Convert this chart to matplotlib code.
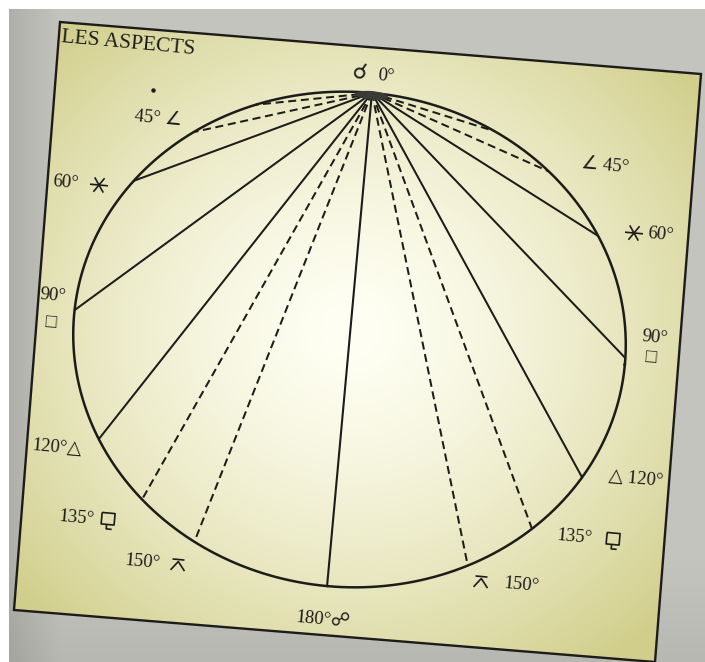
import numpy as np
import matplotlib
matplotlib.use("Agg")
import matplotlib.pyplot as plt
from matplotlib.transforms import Affine2D
from matplotlib.patches import Polygon, Ellipse

# ---------------- data ----------------
title = "LES ASPECTS"
# aspect angles (degrees from the conjunction point) and where the chords were drawn
aspect_angles = [30, 45, 60, 90, 120, 135, 150]
drawn_left = [24.5, 39, 56, 89, 119.5, 136, 150.5]
drawn_right = [27, 41.5, 59.5, 88.5, 118, 134, 150]
is_dashed = [True, True, False, False, False, True, True]
opposition_angle = 180

# plain text labels
label_texts = ["☌", "0°", "45° ∠", "90°", "□", "120°△", "180°☍",
               "∠ 45°", "90°", "□", "△ 120°"]
# number labels whose aspect glyph (sextile, sesquiquadrate, quincunx) has no installed font
num_texts = ["60°", "135°", "150°", "60°", "135°", "150°"]
glyph_kinds = ["sextile", "sesquiquadrate", "quincunx", "sextile", "sesquiquadrate", "quincunx"]

# ---------------- layout ----------------
W, H = 705, 662
cx, cy = 349.5, 339.5          # centre of the (slightly oval) circle, pixels
a_ax, b_ax = 276.5, 247.6       # semi axes
tilt = 5.2                      # page tilt, degrees (clockwise)
c, s = np.cos(np.radians(tilt)), np.sin(np.radians(tilt))

label_pos = [(360, 74), (386, 76), (158, 119), (53, 296), (51, 323), (57, 448), (323, 620),
             (605, 166), (655, 338), (651, 358), (636, 479)]
label_sizes = [16, 13.5, 13.5, 13.5, 13.5, 13.5, 13.5, 13.5, 13.5, 13.5, 13.5]
num_pos = [(66, 183), (76, 518), (142, 562), (661, 235), (574, 537), (521, 585)]
glyph_pos = [(99, 185), (108, 520), (178, 565), (634, 233), (613, 540), (481, 582)]

frame_pts = [(60, 22), (701, 74), (655, 662), (14, 610)]

ink = "#1c1c1a"

fig = plt.figure(figsize=(W / 100, H / 100), dpi=100)
ax = fig.add_axes([0, 0, 1, 1])
ax.set_xlim(0, W)
ax.set_ylim(H, 0)
ax.axis("off")

# ---------------- background ----------------
yy, xx = np.mgrid[0:H, 0:W].astype(float)
outer = np.zeros((H, W, 3))
g = 196 - 24 * np.clip((60 - xx) / 60, 0, 1) - 12 * np.clip((yy - 560) / 100, 0, 1)
outer[..., 0] = g
outer[..., 1] = g
outer[..., 2] = g - 6
outer[:9, :, :] = 255
outer[:, :9, :] = 255
ax.imshow(outer.astype(np.uint8), extent=(0, W, H, 0), zorder=0, interpolation="bilinear")

d2 = np.sqrt(((xx - 350) / 360) ** 2 + ((yy - 330) / 340) ** 2)
t = np.clip(d2, 0, 1.2) ** 1.45
inner = np.zeros((H, W, 3))
c0 = np.array([255, 255, 244.0])
c1 = np.array([220, 218, 164.0])
for k in range(3):
    inner[..., k] = c0[k] + (c1[k] - c0[k]) * t
inner = np.clip(inner, 0, 255)
frame = Polygon(frame_pts, closed=True, facecolor="none", edgecolor=ink, lw=1.7, zorder=5)
ax.add_patch(frame)
im = ax.imshow(inner.astype(np.uint8), extent=(0, W, H, 0), zorder=1, interpolation="bilinear")
im.set_clip_path(frame)

# ---------------- diagram (local unit-circle coordinates) ----------------
T = Affine2D(np.array([[a_ax * c, b_ax * s, cx],
                       [a_ax * s, -b_ax * c, cy],
                       [0, 0, 1]])) + ax.transData

th = np.linspace(0, 2 * np.pi, 721)
ax.plot(np.cos(th), np.sin(th), color=ink, lw=1.8, transform=T, zorder=4)

top = (0.0, 1.0)


def pt(angle, side):
    r = np.radians(angle)
    return side * np.sin(r), np.cos(r)


for ang_l, ang_r, dsh in zip(drawn_left, drawn_right, is_dashed):
    for ang, side in ((ang_l, -1), (ang_r, 1)):
        x1, y1 = pt(ang, side)
        kw = dict(color=ink, lw=1.45, transform=T, zorder=4, solid_capstyle="round")
        if dsh:
            ax.plot([top[0], x1], [top[1], y1], dashes=(4.0, 2.3), **kw)
        else:
            ax.plot([top[0], x1], [top[1], y1], **kw)

x1, y1 = pt(opposition_angle, 1)
ax.plot([top[0], x1], [top[1], y1], color=ink, lw=1.5, transform=T, zorder=4)

# dark convergence blob at the conjunction point
ax.add_patch(Ellipse((0.0, 0.99), 0.12, 0.035, facecolor="#3a3a36", edgecolor="none",
                     transform=T, zorder=4))

# speck
ax.plot([153], [90], marker="o", ms=2.2, color=ink, zorder=4)

# ---------------- text ----------------
fam = ["Liberation Serif", "DejaVu Sans"]
fs = 13.5
for txt, (x, y), size in zip(label_texts, label_pos, label_sizes):
    ax.text(x, y, txt, ha="center", va="center", rotation=-tilt, rotation_mode="anchor",
            fontsize=size, color=ink, family=fam, zorder=6)
for txt, (x, y) in zip(num_texts, num_pos):
    ax.text(x, y, txt, ha="center", va="center", rotation=-tilt, rotation_mode="anchor",
            fontsize=fs, color=ink, family=fam, zorder=6)

ax.text(61, 38, title, ha="left", va="center", rotation=-tilt, rotation_mode="anchor",
        fontsize=15.5, color=ink, family=fam, zorder=6)


# aspect glyphs missing from every installed font: drawn as small strokes
def glyph_segments(kind):
    if kind == "sextile":
        h = 9
        return [[(-h, 0), (h, 0)],
                [(-h * 0.55, -h * 0.8), (h * 0.55, h * 0.8)],
                [(-h * 0.55, h * 0.8), (h * 0.55, -h * 0.8)]]
    if kind == "quincunx":
        return [[(-6, -5.5), (6, -5.5)],
                [(-7, 5.5), (0, -3.5), (7, 5.5)]]
    # sesquiquadrate
    return [[(-6.5, -7), (6.5, -7), (6.5, 4.5), (-6.5, 4.5), (-6.5, -7)],
            [(-1, 4.5), (-1, 9), (4.5, 9)]]


for kind, (gx, gy) in zip(glyph_kinds, glyph_pos):
    for seg in glyph_segments(kind):
        seg = np.array(seg, dtype=float)
        xs = gx + seg[:, 0] * c - seg[:, 1] * s
        ys = gy + seg[:, 0] * s + seg[:, 1] * c
        ax.plot(xs, ys, color=ink, lw=1.2, zorder=6, solid_capstyle="butt")

fig.savefig("out.png", dpi=100)
